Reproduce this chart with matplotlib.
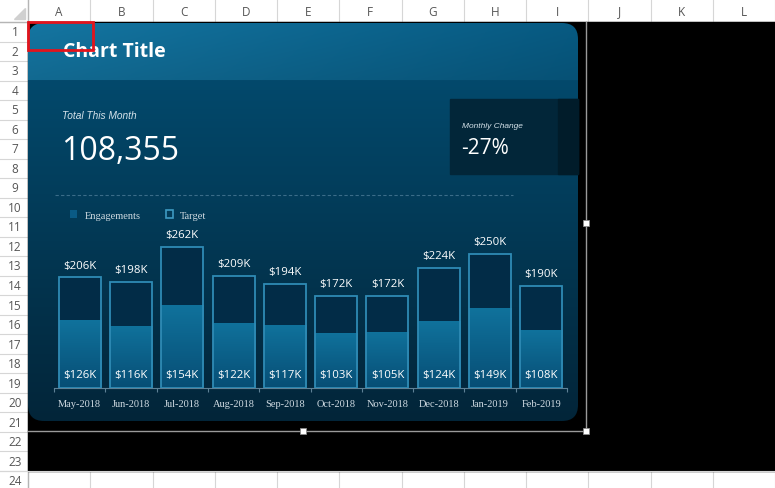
import matplotlib.pyplot as plt
import numpy as np
from matplotlib.colors import to_rgb
from matplotlib.patches import FancyBboxPatch, Patch, Polygon, Rectangle

# Chart data
months = ["May-2018", "Jun-2018", "Jul-2018", "Aug-2018", "Sep-2018",
          "Oct-2018", "Nov-2018", "Dec-2018", "Jan-2019", "Feb-2019"]
target = [206, 198, 262, 209, 194, 172, 172, 224, 250, 190]
engagements = [126, 116, 154, 122, 117, 103, 105, 124, 149, 108]
title = "Chart Title"
total_label = "Total This Month"
total_value = "108,355"
change_label = "Monthly Change"
change_value = "-27%"

# Spreadsheet chrome
columns = list("ABCDEFGHIJKL")
rows = list(range(1, 25))

W, H = 775, 489
COL_X0, COL_W = 28, 62.25
ROW_Y0, ROW_H = 23, 19.52
SERIF = ["Liberation Serif", "DejaVu Serif"]
NARROW = ["Liberation Sans Narrow", "Liberation Sans", "DejaVu Sans"]


def lerp_colors(c0, c1, n):
    a, b = np.array(to_rgb(c0)), np.array(to_rgb(c1))
    t = np.linspace(0, 1, n)[:, None]
    return a + (b - a) * t


def make_plot():
    fig = plt.figure(figsize=(W / 100, H / 100), dpi=100)
    bg = fig.add_axes([0, 0, 1, 1])
    bg.set_xlim(0, W)
    bg.set_ylim(H, 0)
    bg.axis("off")

    # --- Excel grid around the chart
    black_bottom = ROW_Y0 + 23 * ROW_H
    bg.add_patch(Rectangle((COL_X0, ROW_Y0), W - COL_X0, black_bottom - ROW_Y0,
                           color="black", zorder=1))
    for k in range(len(columns) + 1):
        xb = COL_X0 + k * COL_W
        bg.plot([xb, xb], [0, ROW_Y0], color="#d6d6d6", lw=0.8, zorder=0)
        bg.plot([xb, xb], [black_bottom, H], color="#d6d6d6", lw=0.8, zorder=0)
    for k, name in enumerate(columns):
        bg.text(COL_X0 + (k + 0.5) * COL_W, 12, name, ha="center", va="center",
                fontsize=8.5, color="#555555", family="Open Sans")
    for r in range(len(rows) + 1):
        yb = ROW_Y0 + r * ROW_H
        bg.plot([0, COL_X0], [yb, yb], color="#d6d6d6", lw=0.8, zorder=0)
    bg.plot([0, W], [black_bottom, black_bottom], color="#d6d6d6", lw=0.8)
    for r in rows:
        bg.text(15, ROW_Y0 + (r - 0.5) * ROW_H, str(r), ha="center", va="center",
                fontsize=8.5, color="#555555", family="Open Sans")
    bg.plot([0, W], [ROW_Y0, ROW_Y0], color="#b5b5b5", lw=1, zorder=0)
    bg.plot([COL_X0, COL_X0], [0, H], color="#b5b5b5", lw=1, zorder=0)
    bg.add_patch(Polygon([(25, 9), (25, 20), (14, 20)], color="#d0d0d0", zorder=0))

    # --- dashboard panel
    panel = FancyBboxPatch((28, 24), 550, 398, boxstyle="round,pad=0,rounding_size=16",
                           fc="none", ec="none", zorder=2)
    bg.add_patch(panel)
    body = lerp_colors("#03496c", "#022539", 200)[:, None, :].repeat(2, axis=1)
    im = bg.imshow(body, extent=(28, 578, 422, 81), aspect="auto", zorder=2,
                   interpolation="bilinear")
    im.set_clip_path(panel)
    horiz = lerp_colors("#1475a1", "#075a82", 100)
    vert = np.linspace(1.0, 0.9, 40)[:, None, None]
    header = np.clip(horiz[None, :, :] * vert, 0, 1)
    im = bg.imshow(header, extent=(28, 578, 81, 24), aspect="auto", zorder=2,
                   interpolation="bilinear")
    im.set_clip_path(panel)
    bg.set_xlim(0, W)
    bg.set_ylim(H, 0)

    bg.add_patch(Rectangle((450, 100), 128, 75, color="#022639", zorder=3))
    bg.add_patch(Rectangle((558, 100), 20, 75, color="#011c2a", zorder=3))

    bg.text(63, 52, title, ha="left", va="center", fontsize=14, fontweight="bold",
            color="white", family="Open Sans", zorder=5)
    bg.text(62, 116, total_label, ha="left", va="center", fontsize=7.3, style="italic",
            color="#d5e2ea", family=NARROW, zorder=5)
    bg.text(61, 152, total_value, ha="left", va="center", fontsize=23,
            color="white", family="Open Sans", zorder=5)
    bg.text(462, 127, change_label, ha="left", va="center", fontsize=6.0, style="italic",
            color="#d5e2ea", family=NARROW, zorder=5)
    bg.text(461, 149, change_value, ha="left", va="center", fontsize=15,
            color="white", family="Open Sans", zorder=5)
    bg.plot([55, 513], [196, 196], ls=(0, (3, 2)), color="#3b6d89", lw=0.8, zorder=4)

    # --- selection frame of the chart object
    bg.plot([28, 586], [432, 432], color="#9a9a9a", lw=1, zorder=6)
    bg.plot([586, 586], [ROW_Y0, 432], color="#9a9a9a", lw=1, zorder=6)
    for hx, hy in [(303, 432), (586, 432), (586, 224)]:
        bg.add_patch(Rectangle((hx - 3, hy - 3), 6, 6, fc="white", ec="#8a8a8a",
                               lw=0.6, zorder=7))
    bg.add_patch(Rectangle((28, 23), 65, 28, fill=False, ec="#e3141c", lw=2, zorder=8))

    # --- bar chart
    ax = fig.add_axes([54 / W, (H - 389) / H, (567 - 54) / W, 161 / H])
    ax.patch.set_visible(False)
    x = np.arange(len(months))
    width = 0.82
    ax.bar(x, target, width=width, color="#022c47", zorder=2)
    eng_bars = ax.bar(x, engagements, width=width, color="#0a6590", zorder=3)
    # first row = top of the bar (light), last row = baseline (dark)
    grad = lerp_colors("#10729c", "#074e75", 100)[:, None, :]
    for p in eng_bars:
        gim = ax.imshow(grad, extent=(p.get_x(), p.get_x() + p.get_width(), 0, p.get_height()),
                        origin="upper", aspect="auto", zorder=3.5, interpolation="bilinear")
        gim.set_clip_path(p)
    ax.bar(x, target, width=width, fill=False, edgecolor="#2f8bb5", linewidth=1.3, zorder=4)
    ax.set_xlim(-0.5, len(months) - 0.5)
    ax.set_ylim(0, 300)

    for i, v in enumerate(target):
        ax.annotate(f"${v}K", (i, v), xytext=(0, 5), textcoords="offset points",
                    ha="center", va="bottom", color="white", fontsize=8.2,
                    family="Open Sans", annotation_clip=False, zorder=5)
    for i, v in enumerate(engagements):
        ax.annotate(f"${v}K", (i, 0), xytext=(0, 9.5), textcoords="offset points",
                    ha="center", va="center", color="white", fontsize=8.2,
                    family="Open Sans", annotation_clip=False, zorder=5)

    for side in ["top", "left", "right"]:
        ax.spines[side].set_visible(False)
    ax.spines["bottom"].set_color("#5e8196")
    ax.spines["bottom"].set_linewidth(0.8)
    ax.set_yticks([])
    ax.set_xticks(x, months)
    ax.set_xticks(np.arange(-0.5, len(months), 1), minor=True)
    ax.tick_params(axis="x", which="major", length=0, pad=8, labelsize=7.5,
                   labelcolor="#d0dbe2")
    ax.tick_params(axis="x", which="minor", length=3, width=0.8, color="#5e8196")
    for lab in ax.get_xticklabels():
        lab.set_family(SERIF)

    handles = [Patch(facecolor="#0a5a85", edgecolor="none", label="Engagements"),
               Patch(facecolor="none", edgecolor="#3d9ac2", linewidth=1.2, label="Target")]
    leg = ax.legend(handles=handles, loc="center left", ncol=2, frameon=False,
                    bbox_to_anchor=(70 / W, 1 - 216 / H), bbox_transform=fig.transFigure,
                    borderpad=0, borderaxespad=0, handlelength=0.7, handleheight=0.7,
                    handletextpad=0.7, columnspacing=2.4,
                    prop={"family": SERIF, "size": 7.5})
    for t in leg.get_texts():
        t.set_color("#d0dbe2")

    fig.savefig("out.png", dpi=100)


if __name__ == "__main__":
    make_plot()
